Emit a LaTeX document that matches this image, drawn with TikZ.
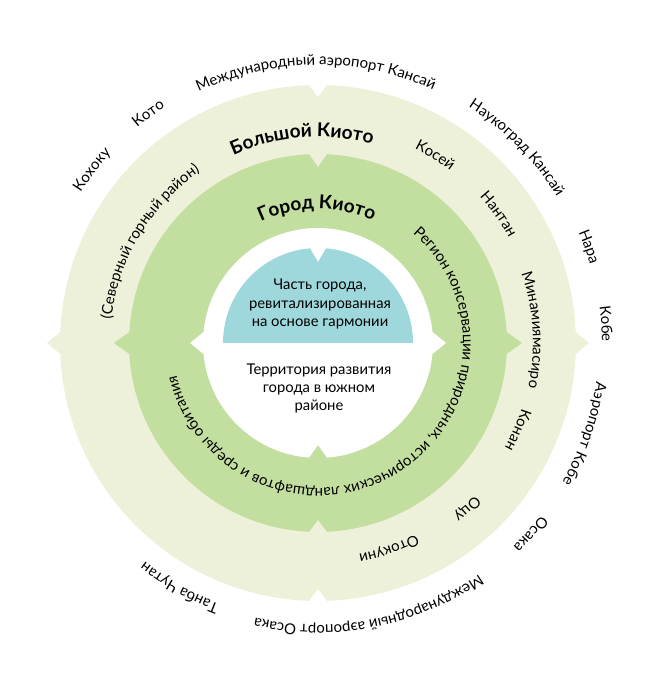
\documentclass[tikz,border=0pt]{standalone}
\usepackage{fontspec}
\setmainfont{Lato}
\usetikzlibrary{decorations.text}
\definecolor{outerc}{RGB}{238,241,218}
\definecolor{midc}{RGB}{195,223,160}
\definecolor{tealc}{RGB}{158,216,220}
\newcommand\lbl{\fontsize{15}{18}\selectfont}
\newcommand\ttl{\fontsize{19}{22}\selectfont\bfseries}
% disc: radius, colour, arrow length, top notch depth, bottom notch depth
\newcommand\ringdisc[5]{%
  \fill[#2] ({90-asin(9/#1)}:#1pt) arc[start angle={90-asin(9/#1)}, end angle={asin(11/#1)}, radius=#1pt]
    -- ({#1pt+#3pt},0pt) -- ({-asin(11/#1)}:#1pt)
    arc[start angle={-asin(11/#1)}, end angle={-90+asin(9/#1)}, radius=#1pt]
    -- (0pt,{-#1pt+#5pt}) -- ({-90-asin(9/#1)}:#1pt)
    arc[start angle={-90-asin(9/#1)}, end angle={-180+asin(11/#1)}, radius=#1pt]
    -- ({-#1pt-#3pt},0pt) -- ({180-asin(11/#1)}:#1pt)
    arc[start angle={180-asin(11/#1)}, end angle={90+asin(9/#1)}, radius=#1pt]
    -- (0pt,{#1pt-#4pt}) -- cycle;}
% curved text: radius, centre angle, half span, font, text
\newcommand\curvelabel[5]{%
  \path[decorate, decoration={text along path, text align=center, text={|#4|#5}}]
    ({#2+#3}:#1pt) arc[start angle={#2+#3}, end angle={#2-#3}, radius=#1pt];}
\begin{document}
\begin{tikzpicture}
\useasboundingbox (-318pt,-357pt) rectangle (349pt,343pt);
\ringdisc{258}{outerc}{13}{12}{12}
\ringdisc{189}{midc}{15}{13}{12}
\ringdisc{115}{white}{13}{0}{13}
\fill[tealc] (-95pt,0pt) arc[start angle=180, end angle={90+asin(8/95)}, radius=95pt]
  -- (0pt,81pt) -- ({90-asin(8/95)}:95pt)
  arc[start angle={90-asin(8/95)}, end angle=0, radius=95pt] -- cycle;
\node[align=center, font=\fontsize{14.8}{18.5}\selectfont] (upper) at (2pt,39pt)
  {Часть города,\\ревитализированная\\на основе гармонии};
\node[align=center, font=\fontsize{14.8}{18}\selectfont] (lower) at (1pt,-45pt)
  {Территория развития\\города в южном\\районе};
% outside labels
\curvelabel{278}{90.5}{60}{\lbl}{Международный аэропорт Кансай}
\curvelabel{281}{126.5}{30}{\lbl}{Кото}
\curvelabel{281}{142.5}{30}{\lbl}{Кохоку}
\curvelabel{280}{44.5}{40}{\lbl}{Наукоград Кансай}
\curvelabel{283}{19.5}{20}{\lbl}{Нара}
\curvelabel{284}{3.8}{20}{\lbl}{Кобе}
\curvelabel{281}{-18.8}{40}{\lbl}{Аэропорт Кобе}
\curvelabel{282}{-42}{20}{\lbl}{Осака}
\curvelabel{282}{-79}{60}{\lbl}{Международный аэропорт Осака}
\curvelabel{279}{-119.5}{30}{\lbl}{Танба Чутан}
% outer ring labels
\curvelabel{206}{94.5}{40}{\ttl}{Большой Киото}
\curvelabel{217}{58}{20}{\lbl}{Косей}
\curvelabel{218}{35.5}{20}{\lbl}{Нантан}
\curvelabel{215}{3.5}{40}{\lbl}{Минамиямасиро}
\curvelabel{214}{-23.5}{20}{\lbl}{Конан}
\curvelabel{219}{-48}{20}{\lbl}{Оцу}
\curvelabel{215}{-71}{20}{\lbl}{Отокуни}
\curvelabel{208}{149}{50}{\lbl}{(Северный горный район)}
% middle ring labels
\curvelabel{134}{90.5}{50}{\ttl}{Город Киото}
\curvelabel{145}{-59}{125}{\lbl}{Регион консервации природных, исторических ландшафтов и среды обитания}
\end{tikzpicture}
\end{document}
